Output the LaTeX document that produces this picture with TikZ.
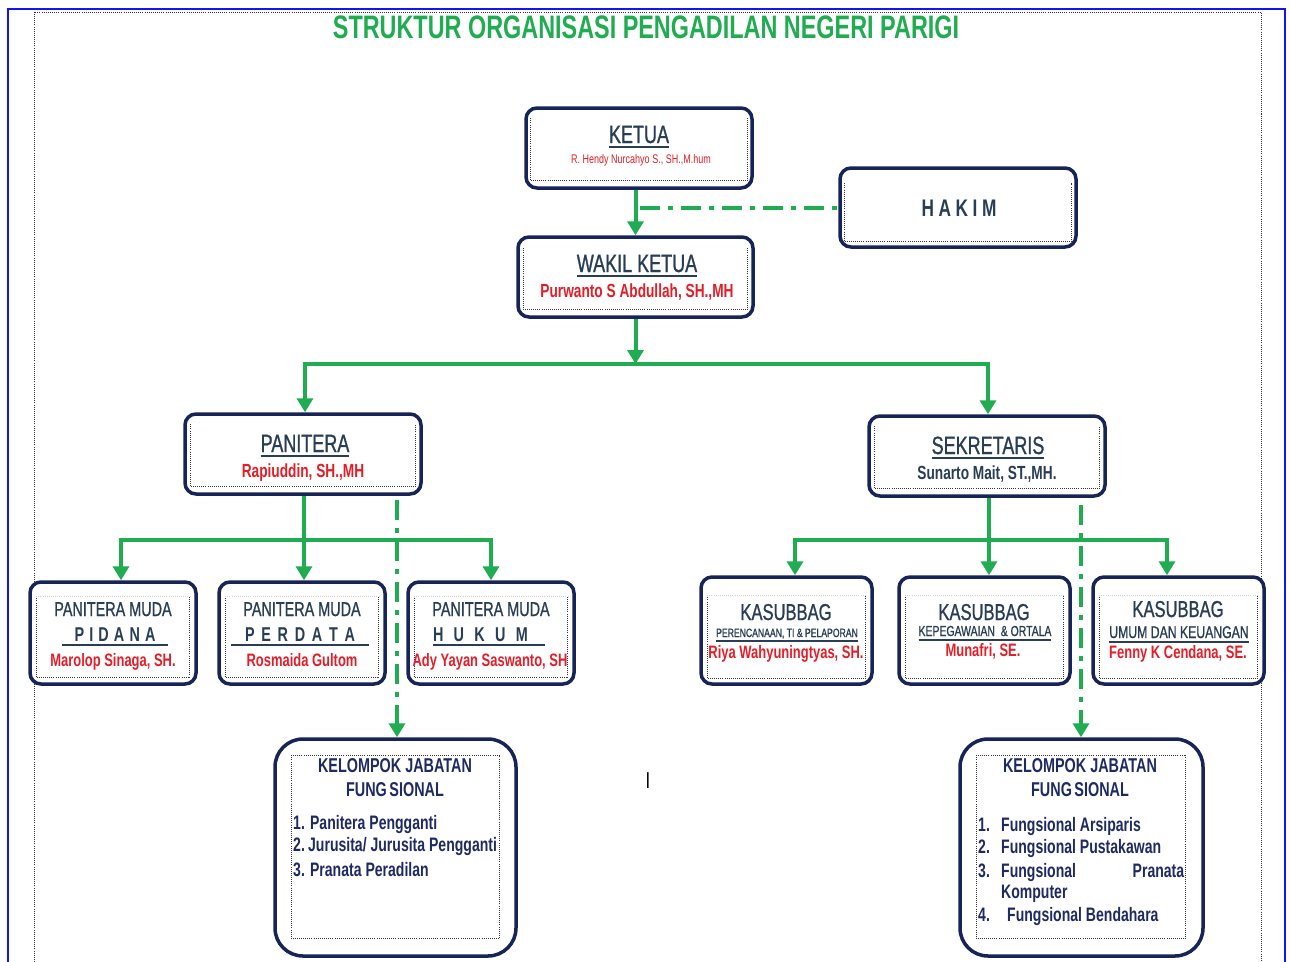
\documentclass[tikz,border=0pt]{standalone}
\usepackage{fontspec}
\setmainfont{Liberation Sans}[FakeStretch=0.72]
\newfontfamily\medf{Liberation Sans}[FakeStretch=0.72, FakeBold=0.9]
\usetikzlibrary{arrows.meta,calc,backgrounds}
\definecolor{navyb}{RGB}{22,36,88}
\definecolor{hdr}{RGB}{40,62,86}
\definecolor{redn}{RGB}{228,30,40}
\definecolor{grn}{RGB}{32,172,80}
\definecolor{framec}{RGB}{20,20,240}
\definecolor{kel}{RGB}{30,42,100}
\newcommand\ulx[1]{\setbox0\hbox{#1}\rlap{\vrule height -3pt depth 4.5pt width \wd0}\box0}
\newcommand\innerdots[4]{%
  \draw[dotl] ($(#1.north west)+(#4,#2)$) |- ($(#1.south east)+(-#4,-#3)$) -- ($(#1.north east)+(-#4,#2)$);}
\newcommand\innertop[3]{%
  \draw[dotl, black!18] ($(#1.north west)+(#3,#2)$) -- ($(#1.north east)+(-#3,#2)$);}
\tikzset{
  box/.style={draw=navyb, line width=3.5pt, rounded corners=11pt, fill=white, inner sep=0pt},
  kbox/.style={box, rounded corners=28pt},
  dotl/.style={line width=1pt, dash pattern=on 1pt off 1.1pt, black!80},
  tip/.style={-{Triangle[width=16pt,length=14pt]}},
  arr/.style={draw=grn, line width=4pt, tip},
  gl/.style={draw=grn, line width=4pt},
  dd/.style={draw=grn, line width=4pt, dash pattern=on 20pt off 8pt on 5pt off 8pt},
  txt/.style={inner sep=0pt, anchor=base},
  hd/.style={txt, text=hdr, font=\medf\fontsize{25}{27}\selectfont},
  nmb/.style={txt, text=redn, font=\bfseries\fontsize{19}{21}\selectfont},
  nms/.style={txt, text=redn, font=\bfseries\fontsize{18}{20}\selectfont},
  pm/.style={txt, text=hdr, font=\medf\fontsize{20}{22}\selectfont},
  spc/.style={txt, text=hdr, font=\bfseries\fontsize{20}{22}\selectfont},
  ksb/.style={txt, text=hdr, font=\medf\fontsize{23}{25}\selectfont},
  kh/.style={txt, text=kel, font=\bfseries\fontsize{20}{22}\selectfont},
  ki/.style={inner sep=0pt, anchor=base west, text=kel, font=\bfseries\fontsize{19.5}{21}\selectfont},
}
\begin{document}
\begin{tikzpicture}[x=1pt,y=-1pt]
\useasboundingbox (0,0) rectangle (1290,961);

% title
\node[txt, text=grn, font=\bfseries\fontsize{32.5}{34}\selectfont] (title) at (646,38) {STRUKTUR ORGANISASI PENGADILAN NEGERI PARIGI};

% boxes
\node[box, minimum width=226pt, minimum height=80pt] (ketua) at (639,148) {};
\node[box, minimum width=236pt, minimum height=79pt] (hakim) at (958,207.5) {};
\node[box, minimum width=235pt, minimum height=80pt] (wakil) at (635.5,277) {};
\node[box, minimum width=236pt, minimum height=80pt] (panitera) at (303,454) {};
\node[box, minimum width=236pt, minimum height=80pt] (sekretaris) at (987,456) {};
\node[box, minimum width=166pt, minimum height=102pt] (pidana) at (113,633) {};
\node[box, minimum width=166pt, minimum height=102pt] (perdata) at (302,633) {};
\node[box, minimum width=166pt, minimum height=102pt] (hukum) at (491,633) {};
\node[box, minimum width=171pt, minimum height=107pt] (ks1) at (786.5,630.5) {};
\node[box, minimum width=171pt, minimum height=107pt] (ks2) at (984.5,630.5) {};
\node[box, minimum width=171pt, minimum height=107pt] (ks3) at (1178.5,630.5) {};
\node[kbox, minimum width=241pt, minimum height=217pt] (kel1) at (395.5,847.5) {};
\node[kbox, minimum width=243pt, minimum height=217pt] (kel2) at (1081.5,847.5) {};

% inner dotted frames
\innerdots{ketua}{12}{9}{6}
\innerdots{hakim}{17}{7}{6}
\innerdots{wakil}{13}{9}{7}
\innerdots{panitera}{12}{9}{7}
\innerdots{sekretaris}{12}{9}{7}
\foreach \b in {pidana,perdata,hukum}{\innerdots{\b}{16}{8}{8}\innertop{\b}{16}{8}}
\foreach \b in {ks1,ks2,ks3}{\innerdots{\b}{20}{7}{8}\innertop{\b}{20}{8}}
\draw[dotl] ($(kel1.north west)+(18,18)$) rectangle ($(kel1.south east)+(-18,-19)$);
\draw[dotl] ($(kel2.north west)+(18,18)$) rectangle ($(kel2.south east)+(-19,-19)$);

\begin{pgfonlayer}{background}
\fill[white] (0,0) rectangle (1290,961);
\draw[framec, line width=2.5pt] (8,962) -- (8,9) -- (1285,9) -- (1285,962);
\draw[dotl] (34,962) -- (34,12) -- (1261,12) -- (1261,962);
% connectors
\draw[arr] (wakil.north |- ketua.south) -- (wakil.north);
\coordinate (hk) at ($(wakil.north |- hakim.west)+(4,0)$);
\draw[dd] (hk) -- (hakim.west);
\coordinate (bus) at (635.5,364);
\draw[arr] (wakil.south) -- (bus);
\draw[arr] (bus) -| ($(panitera.north)+(2,0)$);
\draw[arr] (bus) -| ($(sekretaris.north)+(1,0)$);
\coordinate (pb) at (304,540);
\draw[arr] ($(panitera.south)+(1,0)$) -- (pb) -- ($(perdata.north)+(2,0)$);
\draw[arr] (pb) -| ($(pidana.north)+(8,0)$);
\draw[arr] (pb) -| (hukum.north);
\coordinate (sb) at (989,540);
\draw[arr] ($(sekretaris.south)+(2,0)$) -- (sb) -- (sb |- ks2.north);
\draw[arr] (sb) -| ($(ks1.north)+(8.5,0)$);
\draw[arr] (sb) -| ($(ks3.north)+(-11.5,0)$);
\coordinate (pd) at (397,500);
\draw[dd, tip] (pd) -- (pd |- kel1.north);
\coordinate (sd) at (1081,505);
\draw[dd, tip] (sd) -- (sd |- kel2.north);
\end{pgfonlayer}

% texts
\node[hd] (tketua) at (639,143) {\ulx{KETUA}};
\node[txt, text=redn, font=\fontsize{12.5}{14}\selectfont] (nketua) at (641,163) {R. Hendy Nurcahyo S., SH.,M.hum};
\node[txt, text=hdr, font=\bfseries\fontsize{24}{26}\selectfont] (thakim) at (959,216) {\makebox[75pt][s]{H A K I M}};
\node[hd] (twakil) at (637,272) {\ulx{WAKIL KETUA}};
\node[nmb] (nwakil) at (637,297) {Purwanto S Abdullah, SH.,MH};
\node[hd] (tpan) at (305,452) {\ulx{PANITERA}};
\node[nmb] (npan) at (303,477) {Rapiuddin, SH.,MH};
\node[hd] (tsek) at (988,454) {\ulx{SEKRETARIS}};
\node[nmb, text=hdr] (nsek) at (987,479) {Sunarto Mait, ST.,MH.};

\node[pm] (pm1) at (113,616) {PANITERA MUDA};
\node[pm] (pm2) at (302,616) {PANITERA MUDA};
\node[pm] (pm3) at (491,616) {PANITERA MUDA};
\node[spc] (sp1) at (115,641) {\ulx{\makebox[106pt]{\makebox[81pt][s]{P I D A N A}}}};
\node[spc] (sp2) at (300,641) {\ulx{\makebox[138pt]{\makebox[110pt][s]{P E R D A T A}}}};
\node[spc] (sp3) at (489,641) {\ulx{\makebox[112pt][l]{\makebox[95pt][s]{H U K U M}}}};
\node[nms] (n1) at (113,666) {Marolop Sinaga, SH.};
\node[nms] (n2) at (302,666) {Rosmaida Gultom};
\node[nms] (n3) at (490,666) {Ady Yayan Saswanto, SH};

\node[ksb] (k1) at (786,620) {KASUBBAG};
\node[ksb] (k2) at (984,620) {KASUBBAG};
\node[ksb] (k3) at (1178,617) {KASUBBAG};
\node[txt, text=hdr, font=\medf\fontsize{12}{13}\selectfont] (s1) at (787,637) {\ulx{PERENCANAAN, TI \& PELAPORAN}};
\node[txt, text=hdr, font=\medf\fontsize{14.5}{16}\selectfont] (s2) at (985,636) {\ulx{KEPEGAWAIAN \ \& ORTALA}};
\node[txt, text=hdr, font=\medf\fontsize{17}{18}\selectfont] (s3) at (1179,638) {\ulx{UMUM DAN KEUANGAN}};
\node[nms] (r1) at (786,658) {Riya Wahyuningtyas, SH.};
\node[nms] (r2) at (983,656) {Munafri, SE.};
\node[nms] (r3) at (1178,658) {Fenny K Cendana, SE.};

\node[kh] (kh1a) at (395,772) {KELOMPOK JABATAN};
\node[kh] (kh1b) at (395,796) {FUNG\kern2.5pt SIONAL};
\node[ki] (l1) at (293,829) {1. Panitera Pengganti};
\node[ki] (l2) at (293,851) {2.\,Jurusita/ Jurusita Pengganti};
\node[ki] (l3) at (293,876) {3. Pranata Peradilan};

\node[kh] (kh2a) at (1080,772) {KELOMPOK JABATAN};
\node[kh] (kh2b) at (1080,796) {FUNG\kern2.5pt SIONAL};
\node[ki] (m1n) at (978,831) {1.};
\node[ki] (m1) at (1001,831) {Fungsional Arsiparis};
\node[ki] (m2n) at (978,853) {2.};
\node[ki] (m2) at (1001,853) {Fungsional Pustakawan};
\node[ki] (m3n) at (978,877) {3.};
\node[ki] (m3) at (1001,877) {\makebox[183pt][s]{Fungsional Pranata}};
\node[ki] (m3b) at (1001,898) {Komputer};
\node[ki] (m4n) at (978,921) {4.};
\node[ki] (m4) at (1007,921) {Fungsional Bendahara};

\node[txt, text=black, font=\fontsize{23}{24}\selectfont] (cursor) at (648,788) {I};
\end{tikzpicture}
\end{document}
